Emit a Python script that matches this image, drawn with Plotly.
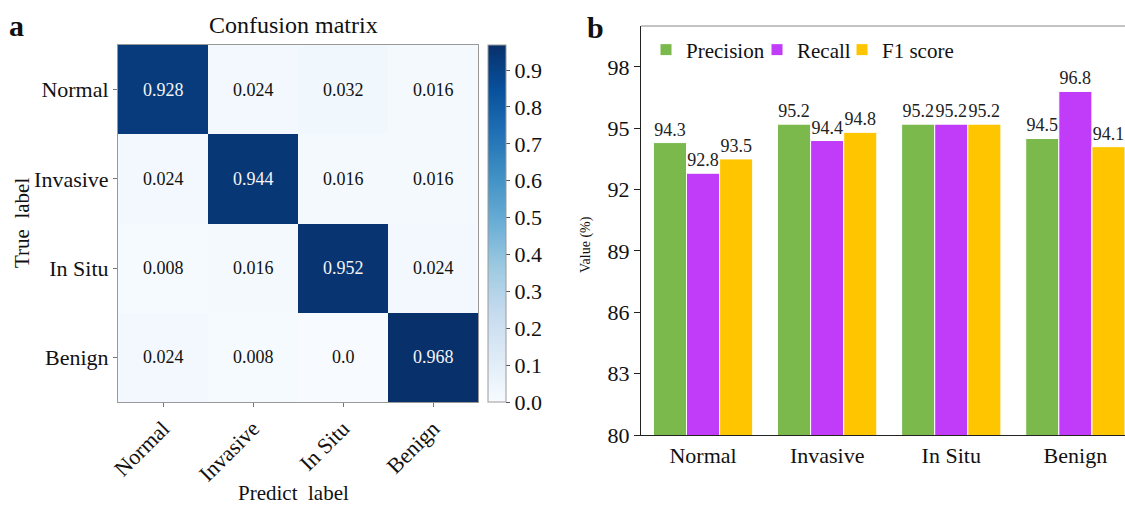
import plotly.graph_objects as go

classes = ["Normal", "Invasive", "In Situ", "Benign"]
cm_values = [
    [0.928, 0.024, 0.032, 0.016],
    [0.024, 0.944, 0.016, 0.016],
    [0.008, 0.016, 0.952, 0.024],
    [0.024, 0.008, 0.0, 0.968],
]
precision = [94.3, 95.2, 95.2, 94.5]
recall = [92.8, 94.4, 95.2, 96.8]
f1_score = [93.5, 94.8, 95.2, 94.1]
cbar_ticks = [0.0, 0.1, 0.2, 0.3, 0.4, 0.5, 0.6, 0.7, 0.8, 0.9]
value_ticks = [80, 83, 86, 89, 92, 95, 98]

FONT = "Liberation Serif, Times New Roman, serif"
W, H = 1125, 507

def px(x):
    return x / W

def py(y):
    return 1 - y / H

fig = go.Figure()

zmax = max(max(r) for r in cm_values)
fig.add_trace(go.Heatmap(
    z=cm_values, x=classes, y=classes,
    colorscale="Blues", zmin=0, zmax=zmax,
    xaxis="x", yaxis="y", showscale=True, hoverinfo="skip", showlegend=False,
    colorbar=dict(
        x=px(488), xanchor="left", y=py(402), yanchor="bottom",
        len=(402 - 45) / H, lenmode="fraction", thickness=18,
        outlinewidth=1, outlinecolor="#999999", xpad=0, ypad=0,
        tickvals=cbar_ticks, tickformat=".1f", ticks="outside", ticklen=4,
        tickcolor="#555555", tickfont=dict(family=FONT, size=22, color="#111"),
    ),
))

cell_annotations = []
for i, row_name in enumerate(classes):
    for j, col_name in enumerate(classes):
        v = cm_values[i][j]
        cell_annotations.append(dict(
            text=str(v), x=col_name, y=row_name, xref="x", yref="y", showarrow=False,
            font=dict(family=FONT, size=18, color="#f4f4f4" if v > zmax / 2 else "#111"),
        ))

series = [("Precision", precision, "#7BB94D", "legend"),
          ("Recall", recall, "#C03CF8", "legend2"),
          ("F1 score", f1_score, "#FFC600", "legend3")]
for name, vals, col, lg in series:
    fig.add_trace(go.Bar(
        x=classes, y=vals, name=name, marker=dict(color=col, line=dict(color="white", width=1)),
        text=[f"{v:.1f}" for v in vals], textposition="outside", constraintext="none",
        cliponaxis=False, textfont=dict(family=FONT, size=18, color="#222"),
        xaxis="x2", yaxis="y2", legend=lg, hoverinfo="skip", showlegend=True,
    ))

axis_font = dict(family=FONT, size=22, color="#111")
leg_font = dict(family=FONT, size=21, color="#111")

def ann(text, x, y, size, angle=0):
    return dict(text=text, x=px(x), y=py(y), xref="paper", yref="paper", xanchor="center",
                yanchor="middle", textangle=angle, showarrow=False,
                font=dict(family=FONT, size=size, color="#111"))

fig.update_layout(
    width=W, height=H, margin=dict(l=0, r=0, t=0, b=0, autoexpand=False),
    paper_bgcolor="white", plot_bgcolor="white", showlegend=True,
    font=dict(family=FONT, color="#111"),
    barmode="group", bargap=0.2, bargroupgap=0,
    xaxis=dict(domain=[px(118), px(478)], tickangle=-45, tickfont=dict(family=FONT, size=22, color="#111"),
               showline=True, mirror=True, linecolor="#999999", linewidth=1, automargin=False,
               ticks="outside", ticklen=4, tickcolor="#777777", showgrid=False, zeroline=False),
    yaxis=dict(domain=[py(402), py(45)], autorange="reversed", tickfont=dict(family=FONT, size=22, color="#111"),
               showline=True, mirror=True, linecolor="#999999", linewidth=1, automargin=False,
               ticks="outside", ticklen=4, tickcolor="#777777", showgrid=False, zeroline=False),
    xaxis2=dict(domain=[px(641), 1.0], range=[-0.5, 3.4], tickfont=axis_font, automargin=False,
                showline=True, linecolor="#222", linewidth=1.2, ticks="", showgrid=False, zeroline=False,
                anchor="y2"),
    yaxis2=dict(domain=[py(435), py(26)], range=[80, 100], tickvals=value_ticks, tickfont=axis_font,
                showline=True, linecolor="#222", linewidth=1.2, ticks="outside", ticklen=6, tickcolor="#222",
                showgrid=False, zeroline=False, anchor="x2", automargin=False),
    legend=dict(x=px(646), y=py(50), xanchor="left", yanchor="middle", orientation="h",
                font=leg_font, bgcolor="rgba(0,0,0,0)"),
    legend2=dict(x=px(757), y=py(50), xanchor="left", yanchor="middle", orientation="h",
                 font=leg_font, bgcolor="rgba(0,0,0,0)"),
    legend3=dict(x=px(842), y=py(50), xanchor="left", yanchor="middle", orientation="h",
                 font=leg_font, bgcolor="rgba(0,0,0,0)"),
    shapes=[dict(type="line", xref="x2 domain", yref="y2 domain", x0=0, x1=1, y0=1, y1=1,
                 line=dict(color="#888888", width=1))],
    annotations=cell_annotations + [
        ann("Confusion matrix", 294, 25, 24),
        ann("<b>a</b>", 16, 25, 30),
        ann("<b>b</b>", 595, 27, 30),
        ann("Predict  label", 293, 493, 21),
        ann("True  label", 22, 223, 21, -90),
        ann("Value (%)", 586, 245, 14, -90),
    ],
)

fig.write_html("out.html", config={"displayModeBar": False},
               post_script="document.body.style.margin='0';document.body.style.overflow='hidden';")
